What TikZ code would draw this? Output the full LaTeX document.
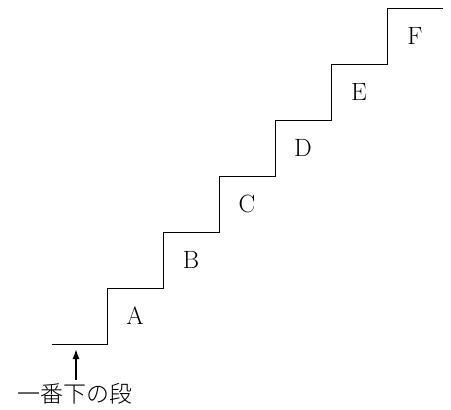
\documentclass[tikz,border=0pt]{standalone}
\usepackage{fontspec}
\usetikzlibrary{arrows.meta}
\newfontfamily\jpfont{Noto Sans CJK JP Light}
\begin{document}
\begin{tikzpicture}[
                x=1pt, y=-1pt,
                line width=1pt,
                every node/.style={font=\fontsize{25}{25}\selectfont},
                caption/.style={font=\jpfont\fontsize{23}{23}\selectfont},
            ]
            \useasboundingbox (0,0) rectangle (451,410);
            \draw (52,344) -- (107,344)
                \foreach \i in {0,...,5} { -- ++(0,-56) -- ++(56,0) };
            \foreach \l [count=\i from 0] in {A,B,C,D,E,F}
                \node (step\l) at (135+56*\i, 316-56*\i) {\l};
            \node[caption] (bottom) at (75,394) {一番下の段};
            \coordinate (floor) at (76,349);
            \draw[line width=1.5pt, -{Latex[length=10pt,width=7pt]}] (bottom.north -| floor) -- (floor);
            \end{tikzpicture}
\end{document}
